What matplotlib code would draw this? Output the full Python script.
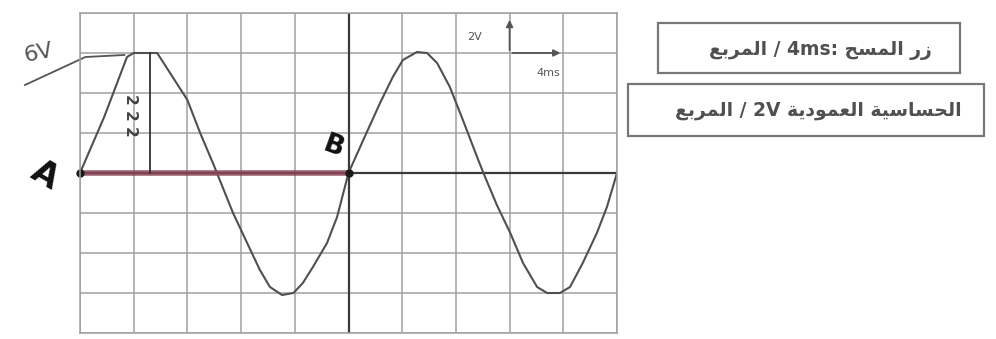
import matplotlib
matplotlib.use("Agg")
import matplotlib.pyplot as plt
from matplotlib.patches import Rectangle

plt.rcParams['font.family'] = ['DejaVu Sans']

# points (time in ms, voltage in V)
t_ms = [0, 1.8, 3.5, 4.0, 4.25, 5.75, 6.9, 8.0, 8.95, 9.9, 10.2, 11.4, 12.45,
        13.4, 14.15, 15.05, 15.9, 16.6, 17.35, 18.4, 19.15, 20.0,
        21.1, 22.35, 23.3, 24.05, 25.1, 25.85, 26.6, 27.55, 28.55, 29.55,
        30.05, 31.05, 32.05, 33.0, 34.05, 34.8, 35.75, 36.5, 37.45, 38.5,
        39.25, 40.0]
volts = [0, 2.8, 5.8, 6.0, 6.0, 6.0, 4.8, 3.65, 2.0, 0.5, 0, -2.0, -3.5,
         -4.85, -5.7, -6.1, -6.0, -5.5, -4.7, -3.5, -2.2, 0,
         1.65, 3.5, 4.8, 5.65, 6.05, 6.0, 5.5, 4.3, 2.6, 0.85,
         0, -1.6, -3.0, -4.5, -5.7, -6.0, -6.0, -5.7, -4.5, -3.0,
         -1.7, 0]

time_div = 4      # ms per square
volt_div = 2      # V per square
n_x, n_y = 10, 8
t_A, t_B = 0, 20
v_peak = 6

# arabic captions, presentation forms in visual order
def vis(*codes):
    return ''.join(chr(c) for c in reversed(codes))

w_murabba = vis(0xFE8D, 0xFEDF, 0xFEE4, 0xFEAE, 0xFE91, 0xFECA)
w_mash = vis(0xFE8D, 0xFEDF, 0xFEE4, 0xFEB4, 0xFEA2)
w_zirr = vis(0xFEAF, 0xFEAD)
w_hassasia = vis(0xFE8D, 0xFEDF, 0xFEA4, 0xFEB4, 0xFE8E, 0xFEB3, 0xFEF4, 0xFE94)
w_amudia = vis(0xFE8D, 0xFEDF, 0xFECC, 0xFEE4, 0xFEEE, 0xFEA9, 0xFEF3, 0xFE94)

caption_1 = w_murabba + ' / 4ms: ' + w_mash + ' ' + w_zirr
caption_2 = w_murabba + ' / 2V ' + w_amudia + ' ' + w_hassasia

fig = plt.figure(figsize=(9.96, 3.39), dpi=100)

# boxes on the right, in pixel coords
bg = fig.add_axes([0, 0, 1, 1])
bg.set_xlim(0, 996)
bg.set_ylim(339, 0)
bg.axis('off')
bg.add_patch(Rectangle((658, 23), 302, 50, fill=False, ec='#777777', lw=1.6))
bg.add_patch(Rectangle((628, 84), 356, 52, fill=False, ec='#777777', lw=1.6))
bg.text(820, 50, caption_1, ha='center', va='center', fontsize=13.5,
        fontweight='bold', color='#505050')
bg.text(818, 110, caption_2, ha='center', va='center', fontsize=13.5,
        fontweight='bold', color='#505050')

# oscilloscope screen
ax = fig.add_axes([80/996, 6/339, 537/996, 320/339])
ax.set_xlim(0, n_x * time_div)
ax.set_ylim(-n_y / 2 * volt_div, n_y / 2 * volt_div)
ax.set_xticks([i * time_div for i in range(n_x + 1)])
ax.set_yticks([(i - n_y / 2) * volt_div for i in range(n_y + 1)])
ax.tick_params(length=0, labelbottom=False, labelleft=False)
ax.grid(True, color='#a0a0a0', lw=1.1)
for s in ax.spines.values():
    s.set_color('#a0a0a0')
    s.set_linewidth(1.1)
ax.axhline(0, color='#3a3a3a', lw=1.6)
ax.axvline(20, color='#3a3a3a', lw=1.6)

ax.plot(t_ms, volts, color='#505050', lw=1.5, solid_joinstyle='round')

# A -> B period
ax.plot([t_A, t_B], [0, 0], color='#8a4656', lw=4, alpha=0.85, solid_capstyle='butt')
ax.plot([t_A, t_B], [0, 0], 'o', color='#1a1a1a', ms=5, clip_on=False)

# amplitude marks
ax.plot([5.2, 5.2], [0, v_peak], color='#333333', lw=1.3)
ax.text(3.75, 2.9, '2 2 2', rotation=270, ha='center', va='center', fontsize=11,
        color='#444444', fontweight='bold')
ax.plot([-4.1, 0.4, 3.3], [4.4, 5.8, 5.9], color='#555555', lw=1.3, clip_on=False)
ax.text(-3.1, 6.0, '6V', fontsize=16, color='#555555', rotation=12,
        ha='center', va='center')
ax.text(-2.6, -0.1, 'A', fontsize=24, fontweight='bold', rotation=-30,
        ha='center', va='center', color='#111111')
ax.text(18.9, 1.3, 'B', fontsize=19, fontweight='bold', rotation=-20,
        ha='center', va='center', color='#111111')

# scale indicator
ax.annotate('', xy=(32, 7.8), xytext=(32, 6),
            arrowprops=dict(arrowstyle='-|>', color='#555555', lw=1.3))
ax.annotate('', xy=(36, 6), xytext=(32, 6),
            arrowprops=dict(arrowstyle='-|>', color='#555555', lw=1.3))
ax.text(29.4, 6.8, '2V', fontsize=8, ha='center', va='center', color='#555555')
ax.text(34.9, 5.0, '4ms', fontsize=8, ha='center', va='center', color='#555555')

fig.savefig('out.png', dpi=100)
